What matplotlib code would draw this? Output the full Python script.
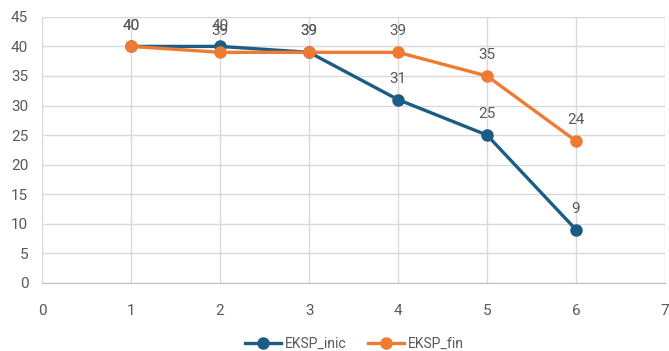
import matplotlib
matplotlib.use("Agg")
import matplotlib.pyplot as plt

x_vals = [1, 2, 3, 4, 5, 6]
eksp_inic = [40, 40, 39, 31, 25, 9]
eksp_fin = [40, 39, 39, 39, 35, 24]
series_names = ["EKSP_inic", "EKSP_fin"]

plt.rcParams["font.family"] = ["Roboto", "DejaVu Sans"]

fig = plt.figure(figsize=(6.69, 3.51), dpi=100)
ax = fig.add_axes([0.063, 0.194, 0.931, 0.758])

blue = "#1b5d86"
orange = "#ef7b32"
text_gray = "#595959"
grid_gray = "#d9d9d9"

for vals, color, name in [(eksp_inic, blue, series_names[0]),
                          (eksp_fin, orange, series_names[1])]:
    ax.plot(x_vals, vals, color=color, lw=2.4, marker="o", ms=8,
            label=name, zorder=3)
    for xv, yv in zip(x_vals, vals):
        ax.annotate(str(yv), (xv, yv), xytext=(0, 10), textcoords="offset points",
                    ha="center", va="bottom", fontsize=11, color=text_gray,
                    annotation_clip=False)

ax.set_xlim(0, 7)
ax.set_ylim(0, 45)
ax.set_xticks(range(0, 8))
ax.set_yticks(range(0, 46, 5))
ax.grid(True, color=grid_gray, lw=1, zorder=0)
ax.set_axisbelow(True)
for side in ["top", "right", "left"]:
    ax.spines[side].set_visible(False)
ax.spines["bottom"].set_color("#bfbfbf")
ax.tick_params(axis="both", length=0, labelsize=11, colors=text_gray)
ax.tick_params(axis="x", pad=15)
ax.tick_params(axis="y", pad=10)

fig.legend(loc="lower center", bbox_to_anchor=(0.53, -0.035), ncol=2,
           frameon=False, fontsize=10, labelcolor=text_gray,
           handlelength=2.6, columnspacing=1.5, handletextpad=0.3)

fig.savefig("out.png", dpi=100)
